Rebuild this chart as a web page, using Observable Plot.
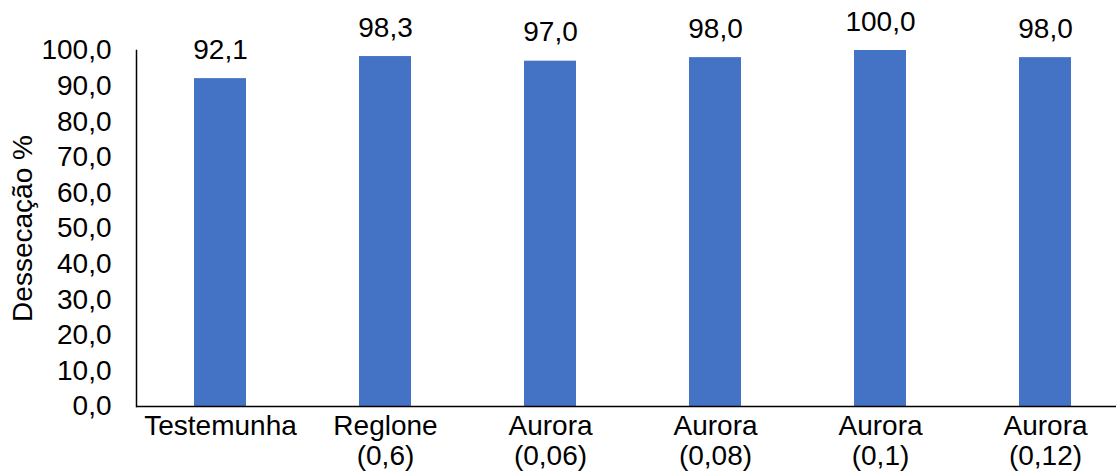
<!DOCTYPE html>
<html>
<head>
<meta charset="utf-8">
<script src="https://cdn.jsdelivr.net/npm/d3@7"></script>
<script src="https://cdn.jsdelivr.net/npm/@observablehq/plot@0.6"></script>
<style>
  html, body { margin: 0; padding: 0; background: #fff; }
  #chart svg { display: block; }
</style>
</head>
<body>
<div id="chart"></div>
<script>
// Treatments and desiccation (%) per treatment
const treatments = ["Testemunha", "Reglone\n(0,6)", "Aurora\n(0,06)", "Aurora\n(0,08)", "Aurora\n(0,1)", "Aurora\n(0,12)"];
const desiccation = [92.1, 98.3, 97.0, 98.0, 100.0, 98.0];
const yTicks = [0, 10, 20, 30, 40, 50, 60, 70, 80, 90, 100];

const data = treatments.map((t, i) => ({treatment: t, value: desiccation[i]}));
const fmt = d => d.toFixed(1).replace(".", ",");
const FS = 28;

const chart = Plot.plot({
  width: 1116,
  height: 472,
  marginLeft: 136,
  marginRight: 0,
  marginTop: 50,
  marginBottom: 66,
  style: {fontFamily: "'Liberation Sans', Arial, sans-serif", fontSize: FS + "px", color: "#000", background: "#fff"},
  x: {domain: treatments, range: [136, 1128], paddingInner: 0.685, paddingOuter: 0.345, label: null},
  y: {domain: [0, 100], label: null},
  marks: [
    Plot.barY(data, {x: "treatment", y: "value", fill: "#4472C4"}),
    Plot.text(data, {x: "treatment", y: "value", text: d => fmt(d.value), dy: -20, lineAnchor: "bottom", fill: "#000", fontSize: FS}),
    Plot.axisY({ticks: yTicks, tickFormat: fmt, tickSize: 0, tickPadding: 25, label: null, fontSize: FS, fill: "#000"}),
    Plot.axisX({tickSize: 0, tickPadding: 7, label: null, fontSize: FS, fill: "#000", lineHeight: 1.08}),
    Plot.frame({anchor: "left", stroke: "#000", strokeWidth: 1.5}),
    Plot.ruleY([0], {stroke: "#000", strokeWidth: 1.5}),
    Plot.text(["Dessecação %"], {frameAnchor: "left", textAnchor: "middle", dx: -113, rotate: -90, fontSize: FS, fill: "#000"})
  ]
});

document.getElementById("chart").appendChild(chart);
</script>
</body>
</html>
